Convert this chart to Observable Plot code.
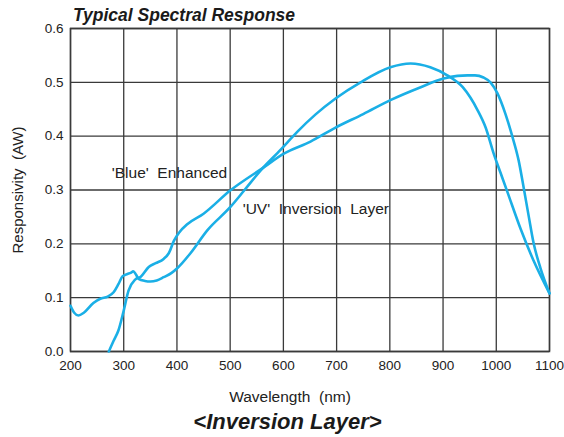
<!DOCTYPE html>
<html>
<head>
<meta charset="utf-8">
<script src="https://cdn.jsdelivr.net/npm/d3@7"></script>
<script src="https://cdn.jsdelivr.net/npm/@observablehq/plot@0.6"></script>
<style>
  html, body { margin: 0; padding: 0; background: #fff; }
  #wrap { position: relative; width: 564px; height: 437px; font-family: "Liberation Sans", Arial, Helvetica, sans-serif; color: #222; }
  .t { position: absolute; line-height: 1; white-space: pre; }
  #title { top: 7px; left: 73px; font-size: 17.5px; font-weight: bold; font-style: italic; color: #1a1a1a; }
  #xlabel { top: 389px; left: 0; width: 580px; text-align: center; font-size: 15.5px; color: #222; }
  #caption { top: 411px; left: 0; width: 575px; text-align: center; font-size: 22px; font-weight: bold; font-style: italic; color: #1a1a1a; }
</style>
</head>
<body>
<div id="wrap">
  <div id="chart"></div>
  <div id="title" class="t">Typical Spectral Response</div>
  <div id="xlabel" class="t">Wavelength  (nm)</div>
  <div id="caption" class="t">&lt;Inversion Layer&gt;</div>
</div>
<script>
// Curve that starts at 200 nm (peak near 840 nm)
const wavelengthA = [200,207,215,225,243,256,270,281,290,298,307,313,318,323,328,340,350,362,375,390,401,425,457,500,527,557,595,626,660,698,745,801,839,876,908,937,965,980,995,1008,1021,1046,1070,1100];
const responseA   = [0.085,0.072,0.067,0.072,0.090,0.098,0.102,0.110,0.125,0.140,0.144,0.146,0.149,0.143,0.135,0.131,0.130,0.132,0.138,0.146,0.155,0.182,0.225,0.268,0.300,0.336,0.375,0.408,0.440,0.470,0.500,0.528,0.535,0.528,0.513,0.491,0.448,0.416,0.368,0.332,0.296,0.227,0.169,0.108];
// Curve that starts near 272 nm (peak near 950 nm)
const wavelengthB = [272,281,290,300,309,322,332,347,360,375,385,394,405,420,450,500,563,600,651,698,750,801,858,901,927,946,960,976,989,1002,1017,1030,1042,1051,1061,1070,1083,1100];
const responseB   = [0.000,0.020,0.039,0.076,0.113,0.134,0.139,0.157,0.164,0.172,0.183,0.205,0.222,0.237,0.256,0.299,0.342,0.367,0.390,0.416,0.441,0.467,0.491,0.507,0.512,0.513,0.513,0.509,0.500,0.480,0.442,0.400,0.355,0.307,0.251,0.202,0.155,0.108];

const xTicks = [200,300,400,500,600,700,800,900,1000,1100];
const yTicks = [0,0.1,0.2,0.3,0.4,0.5,0.6];

const labels = [
  {text: "'Blue'  Enhanced", x: 386, y: 0.331},
  {text: "'UV'  Inversion  Layer", x: 661, y: 0.264}
];

const dataA = wavelengthA.map((w, i) => ({w, r: responseA[i]}));
const dataB = wavelengthB.map((w, i) => ({w, r: responseB[i]}));

const blue = "#1aafe6";
const gridColor = "#3a3a3a";

const plot = Plot.plot({
  width: 564,
  height: 380,
  marginTop: 28,
  marginLeft: 70,
  marginRight: 15,
  marginBottom: 29,
  style: {fontFamily: "'Liberation Sans', Arial, Helvetica, sans-serif", fontSize: "13.5px", color: "#222", background: "transparent", overflow: "visible"},
  x: {domain: [200, 1100], ticks: xTicks, tickFormat: "d", tickSize: 0, tickPadding: 9, label: null},
  y: {domain: [0, 0.6], ticks: yTicks, tickFormat: ".1f", tickSize: 0, tickPadding: 7, label: null},
  marks: [
    Plot.gridX(xTicks, {stroke: gridColor, strokeOpacity: 1, strokeWidth: 1.3}),
    Plot.gridY(yTicks, {stroke: gridColor, strokeOpacity: 1, strokeWidth: 1.3}),
    Plot.frame({stroke: gridColor, strokeWidth: 1.5}),
    Plot.line(dataA, {x: "w", y: "r", stroke: blue, strokeWidth: 2.6, curve: "monotone-x"}),
    Plot.line(dataB, {x: "w", y: "r", stroke: blue, strokeWidth: 2.6, curve: "monotone-x"}),
    Plot.text(labels, {x: "x", y: "y", text: "text", fontSize: 15.5, fill: "#222", textAnchor: "middle"}),
    Plot.text(["Responsivity  (AW)"], {frameAnchor: "left", dx: -52, rotate: -90, fontSize: 15, fill: "#222", textAnchor: "middle"})
  ]
});
document.getElementById("chart").appendChild(plot);
</script>
</body>
</html>
